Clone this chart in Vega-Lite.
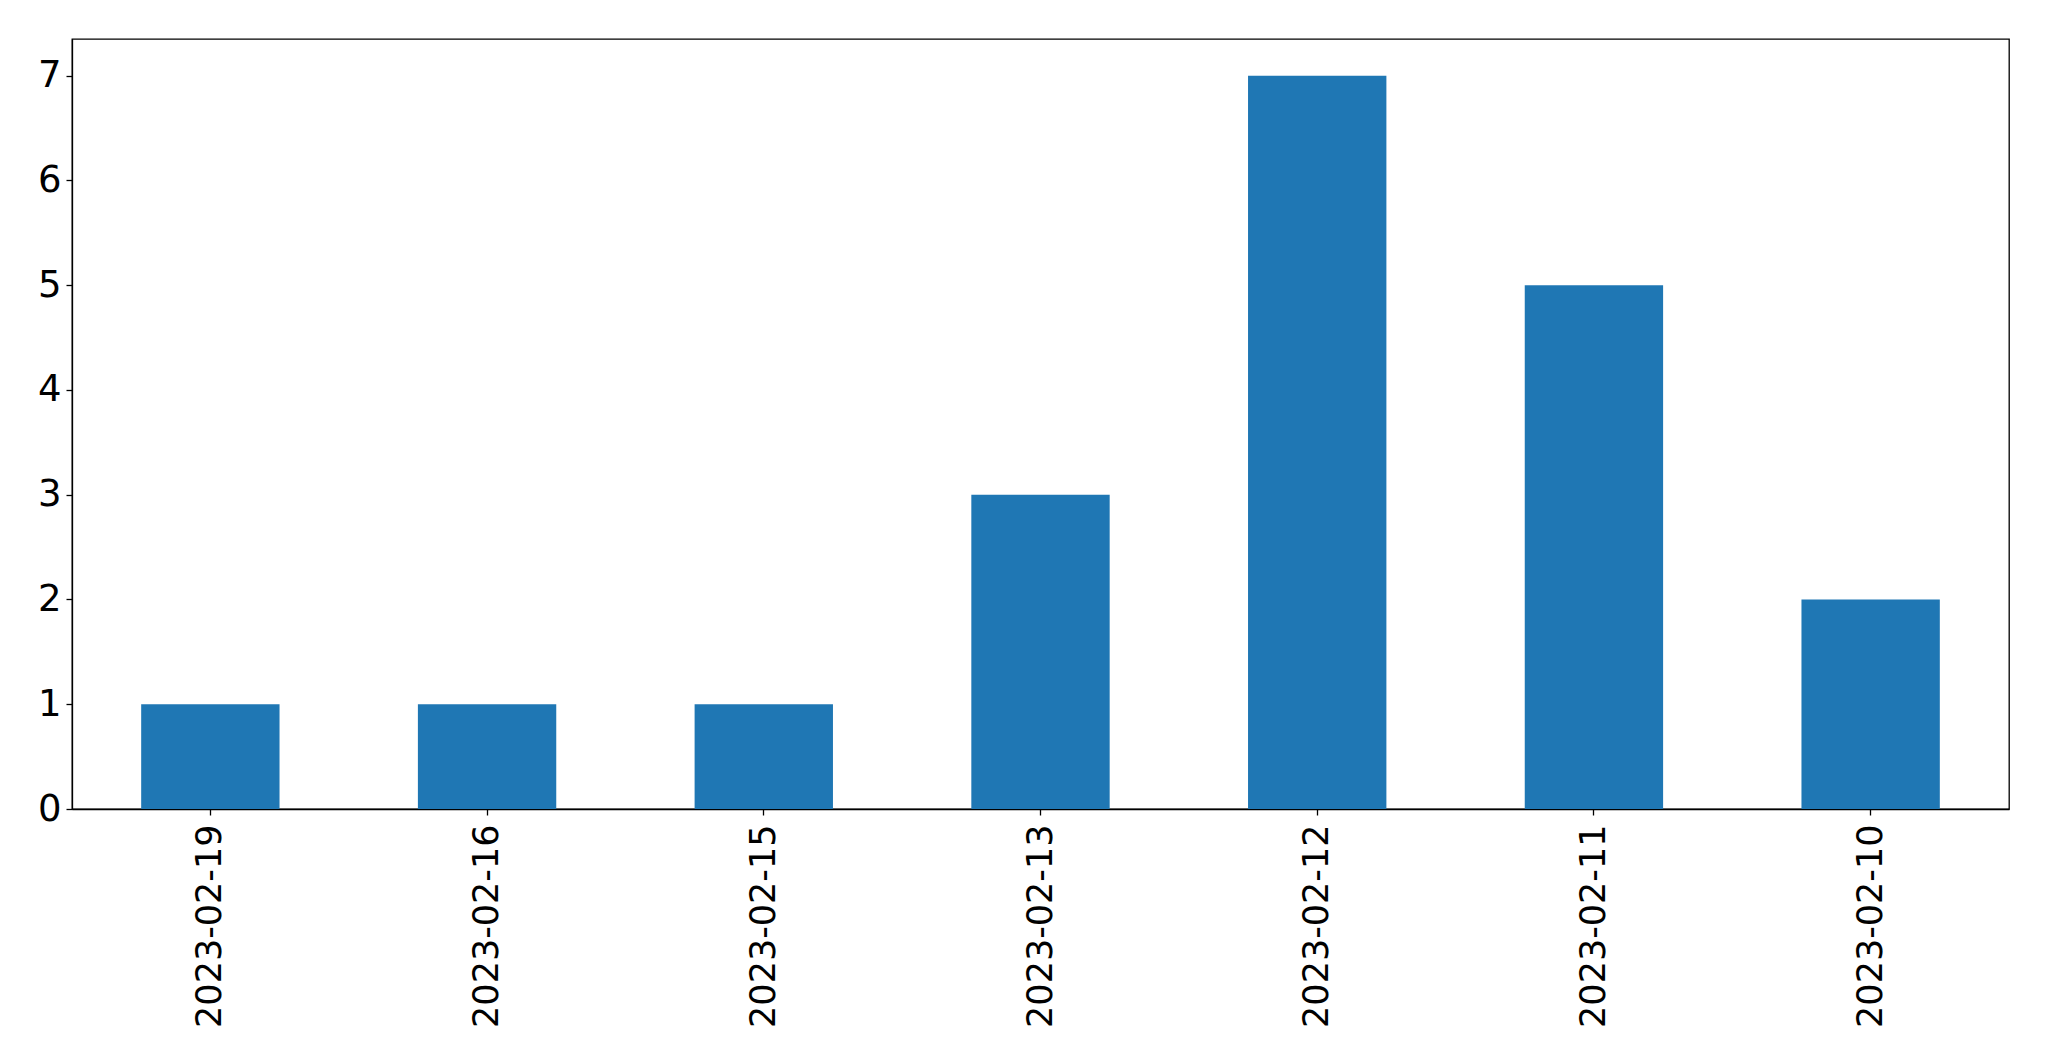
{
  "$schema": "https://vega.github.io/schema/vega-lite/v6.json",
  "autosize": {"type": "none"},
  "width": 1937,
  "height": 770,
  "padding": {"left": 72, "top": 39, "right": 40, "bottom": 252},
  "background": "white",
  "config": {
    "view": {"stroke": "black", "strokeWidth": 1.3},
    "axis": {
      "grid": false,
      "domainColor": "black",
      "domainWidth": 1.3,
      "tickColor": "black",
      "tickWidth": 1.3,
      "tickSize": 6,
      "labelColor": "black",
      "labelFont": "DejaVu Sans",
      "labelFontSize": 35,
      "labelLimit": 0,
      "title": null
    }
  },
  "data": {
    "values": [
      {"date": "2023-02-19", "count": 1},
      {"date": "2023-02-16", "count": 1},
      {"date": "2023-02-15", "count": 1},
      {"date": "2023-02-13", "count": 3},
      {"date": "2023-02-12", "count": 7},
      {"date": "2023-02-11", "count": 5},
      {"date": "2023-02-10", "count": 2}
    ]
  },
  "mark": {"type": "bar", "color": "#1f77b4"},
  "encoding": {
    "x": {
      "field": "date",
      "type": "ordinal",
      "sort": null,
      "scale": {"paddingInner": 0.5, "paddingOuter": 0.25},
      "axis": {"labelAngle": -90, "labelPadding": 9}
    },
    "y": {
      "field": "count",
      "type": "quantitative",
      "scale": {"domain": [0, 7.35], "nice": false},
      "axis": {"values": [0, 1, 2, 3, 4, 5, 6, 7], "labelPadding": 5, "labelFontSize": 37}
    }
  }
}
